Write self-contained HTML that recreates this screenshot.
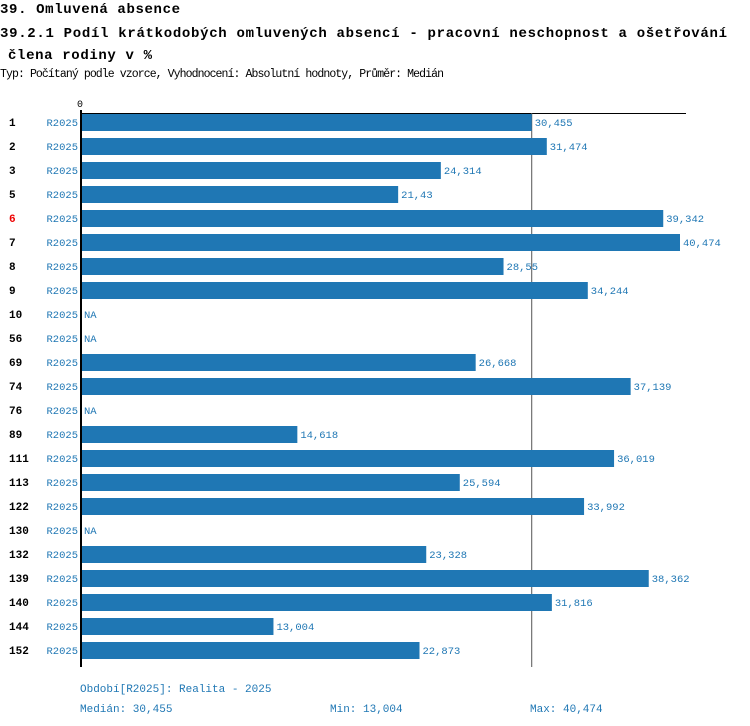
<!DOCTYPE html>
<html><head><meta charset="utf-8"><style>
body{margin:0;background:#fff}
svg{display:block;font-family:"Liberation Mono",monospace}
</style></head><body>
<svg id="c" width="750" height="726">
<text x="0" y="13" font-size="14" font-weight="bold" fill="#000" textLength="180">39. Omluvená absence</text>
<text x="0" y="37" font-size="14" font-weight="bold" fill="#000" textLength="727">39.2.1 Podíl krátkodobých omluvených absencí -  pracovní neschopnost a ošetřování</text>
<text x="8" y="59" font-size="14" font-weight="bold" fill="#000" textLength="144">člena rodiny v %</text>
<text x="0" y="77" font-size="11.5" fill="#000" textLength="444">Typ: Počítaný podle vzorce, Vyhodnocení: Absolutní hodnoty, Průměr: Medián</text>
<text x="80" y="107" font-size="10" text-anchor="middle" fill="#000">0</text>
<line x1="80" y1="113.5" x2="686" y2="113.5" stroke="#000" stroke-width="1"/>
<g id="bars"></g>
<line x1="81" y1="110" x2="81" y2="667" stroke="#000" stroke-width="2"/>
<text x="80" y="692" font-size="11" fill="#1f77b4">Období[R2025]: Realita - 2025</text>
<text x="80" y="712" font-size="11" fill="#1f77b4">Medián: 30,455</text>
<text x="330" y="712" font-size="11" fill="#1f77b4">Min: 13,004</text>
<text x="530" y="712" font-size="11" fill="#1f77b4">Max: 40,474</text>
</svg>
<script>
const categories=["1","2","3","5","6","7","8","9","10","56","69","74","76","89","111","113","122","130","132","139","140","144","152"];
const values=[30.455,31.474,24.314,21.43,39.342,40.474,28.55,34.244,null,null,26.668,37.139,null,14.618,36.019,25.594,33.992,null,23.328,38.362,31.816,13.004,22.873];
const highlighted=["6"];
const medianValue=30.455;
const NS="http://www.w3.org/2000/svg";
const g=document.getElementById('bars');
const x0=81,xMax=680,vMax=40.474;
const xs=v=>x0+(v/vMax)*(xMax-x0);
const ys=i=>122+i*24;
function mk(t,a){const e=document.createElementNS(NS,t);for(const k in a)e.setAttribute(k,a[k]);g.appendChild(e);return e;}
const ml=mk('line',{x1:xs(medianValue),x2:xs(medianValue),y1:113,y2:667,stroke:'#555',"stroke-width":1});


categories.forEach((c,i)=>{
  const y=ys(i);
  const lab=mk('text',{x:9,y:y+4,"font-size":11,"font-weight":"bold",fill:highlighted.includes(c)?'#e00':'#000'});
  lab.textContent=c;
  
  
  const s=mk('text',{x:78,y:y+4,"font-size":10.5,"text-anchor":"end",fill:'#1f77b4'});
  s.textContent='R2025';
  
  
  const v=values[i];
  if(v==null){
    const na=mk('text',{x:84,y:y+4,"font-size":10.5,fill:'#1f77b4'});
    na.textContent='NA';
    
    
    return;
  }
  const r=mk('rect',{x:x0,y:y-8,width:xs(v)-x0,height:17,fill:'#1f77b4'});
  
  
  const t=mk('text',{x:xs(v)+3,y:y+4,"font-size":10.5,fill:'#1f77b4'});
  t.textContent=String(v).replace('.',',');
  
  
});
</script>
</body></html>
